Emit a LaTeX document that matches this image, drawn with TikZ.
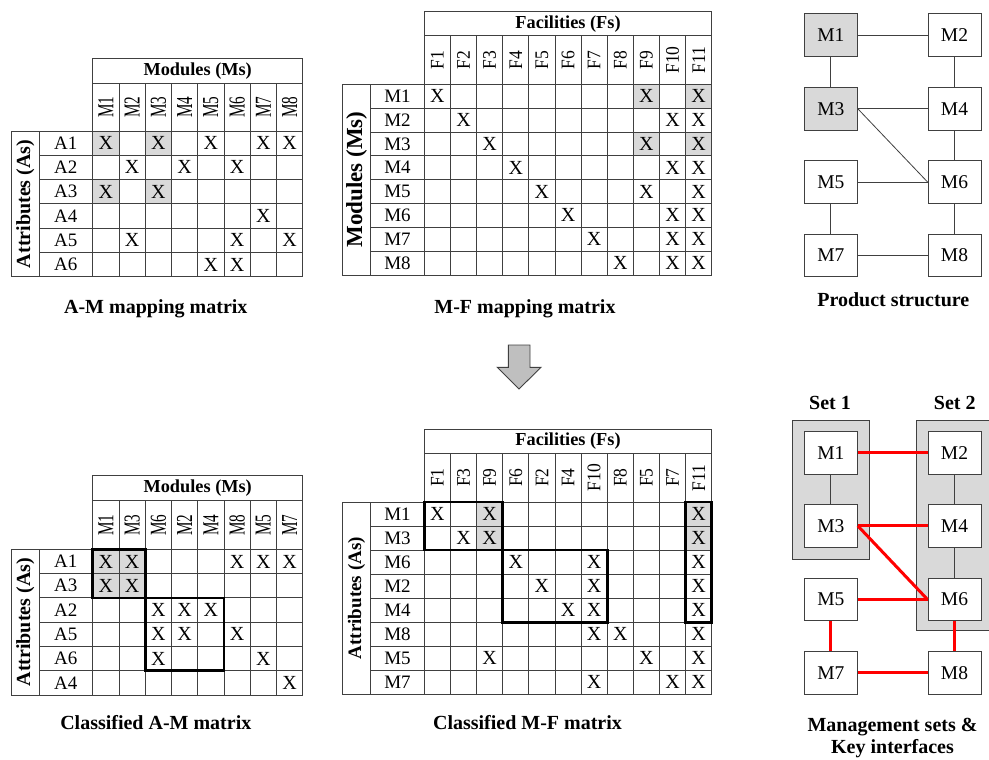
\documentclass[tikz,border=0pt]{standalone}
\usepackage{fontspec}
\setmainfont{Liberation Serif}
\definecolor{cellgray}{HTML}{D9D9D9}
\definecolor{gridc}{HTML}{404040}
\definecolor{arrowgray}{HTML}{BFBFBF}
\tikzset{
  gridline/.style={draw=gridc, line width=0.9pt},
  bbox/.style={draw=black, line width=2.7pt, line join=miter},
  cell/.style={inner sep=0pt, font=\fontsize{20}{20}\selectfont},
  collab/.style={inner sep=0pt, rotate=90, font=\fontsize{17.5}{18}\selectfont},
  rowlab/.style={inner sep=0pt, font=\fontsize{19}{19}\selectfont},
  headlab/.style={inner sep=0pt, font=\fontsize{18.3}{19}\selectfont\bfseries},
  axislab/.style={inner sep=0pt, rotate=90, font=\fontsize{20}{21}\selectfont\bfseries},
  title/.style={inner sep=0pt, anchor=base, font=\fontsize{20}{21}\selectfont\bfseries},
  modbox/.style={draw=gridc, line width=0.9pt, fill=white, minimum width=53pt, minimum height=42.7pt, inner sep=0pt, font=\fontsize{19.5}{20}\selectfont},
  graybox/.style={modbox, fill=cellgray},
  link/.style={draw=gridc, line width=0.8pt},
  redlink/.style={draw=red, line width=3pt},
  setbox/.style={draw=gridc, line width=0.9pt, fill=cellgray},
}
\newcommand{\mgrid}{%
  \pgfmathsetmacro\Xe{\Xc+\NC*\CW}%
  \pgfmathsetmacro\Ye{\Yc+\NR*\RH}%
  \pgfmathtruncatemacro\NCm{\NC-1}%
  \pgfmathtruncatemacro\NRm{\NR-1}%
  \draw[gridline] (\Xc,\Ya) rectangle (\Xe,\Ye);
  \draw[gridline] (\Xc,\Yb) -- (\Xe,\Yb);
  \draw[gridline] (\Xa,\Yc) rectangle (\Xe,\Ye);
  \draw[gridline] (\Xb,\Yc) -- (\Xb,\Ye);
  \foreach \i in {1,...,\NCm} {\draw[gridline] ({\Xc+\i*\CW},\Yb) -- ({\Xc+\i*\CW},\Ye);}
  \foreach \i in {1,...,\NRm} {\draw[gridline] (\Xb,{\Yc+\i*\RH}) -- (\Xe,{\Yc+\i*\RH});}
}
\newcommand{\shadecell}[2]{\fill[cellgray] ({\Xc+(#2-1)*\CW},{\Yc+(#1-1)*\RH}) rectangle ++(\CW,\RH);}
\newcommand{\boldbox}[4]{\draw[bbox] ({\Xc+(#2-1)*\CW},{\Yc+(#1-1)*\RH}) rectangle ({\Xc+#4*\CW},{\Yc+#3*\RH});}
\newcommand{\cellmarks}[2]{%
  \foreach \r/\c in {#2} {\node[cell] (#1-\r-\c) at ({\Xc+(\c-0.5)*\CW},{\Yc+(\r-0.5)*\RH}) {X};}}
% #3: font size, #4: scale along text, #5: scale across text
\newcommand{\collabels}[5]{%
  \foreach \t [count=\c] in {#2} {\node[collab, font=\fontsize{#3}{#3}\selectfont] (#1-c\c) at ({\Xc+(\c-0.5)*\CW},{(\Yb+\Yc)/2}) {\scalebox{#4}[#5]{\t}};}}
\newcommand{\rowlabels}[2]{%
  \foreach \t [count=\r] in {#2} {\node[rowlab] (#1-r\r) at ({(\Xb+\Xc)/2},{\Yc+(\r-0.5)*\RH}) {\t};}}
\begin{document}
\begin{tikzpicture}[x=1pt,y=-1pt]
\useasboundingbox (0,0) rectangle (989,760);

% ---------- Top-left: A-M mapping matrix ----------
\def\Xa{11.7}\def\Xb{39}\def\Xc{92.7}\def\CW{26.25}\def\NC{8}
\def\Ya{58.3}\def\Yb{83.3}\def\Yc{131}\def\RH{24.3}\def\NR{6}
\shadecell{1}{1}\shadecell{1}{3}\shadecell{3}{1}\shadecell{3}{3}
\mgrid
\node[headlab] (tl-head) at ({(\Xc+\Xe)/2},{(\Ya+\Yb)/2}) {Modules (Ms)};
\node[axislab] (tl-axis) at ({(\Xa+\Xb)/2},{(\Yc+\Ye)/2}) {Attributes (As)};
\collabels{tl}{M1,M2,M3,M4,M5,M6,M7,M8}{19}{0.8}{1.2}
\rowlabels{tl}{A1,A2,A3,A4,A5,A6}
\cellmarks{tl}{1/1,1/3,1/5,1/7,1/8,2/2,2/4,2/6,3/1,3/3,4/7,5/2,5/6,5/8,6/5,6/6}
\node[title] (tl-title) at (155.8,313) {A-M mapping matrix};

% ---------- Top-middle: M-F mapping matrix ----------
\def\Xa{342.3}\def\Xb{370.7}\def\Xc{424.3}\def\CW{26.13}\def\NC{11}
\def\Ya{11.7}\def\Yb{35.7}\def\Yc{84.3}\def\RH{23.84}\def\NR{8}
\shadecell{1}{9}\shadecell{1}{11}\shadecell{3}{9}\shadecell{3}{11}
\mgrid
\node[headlab] (tm-head) at ({(\Xc+\Xe)/2},{(\Ya+\Yb)/2}) {Facilities (Fs)};
\node[axislab, font=\fontsize{23}{24}\selectfont\bfseries] (tm-axis) at ({(\Xa+\Xb)/2},{(\Yc+\Ye)/2}) {Modules (Ms)};
\collabels{tm}{F1,F2,F3,F4,F5,F6,F7,F8,F9,F10,F11}{17.5}{1}{1.1}
\rowlabels{tm}{M1,M2,M3,M4,M5,M6,M7,M8}
\cellmarks{tm}{1/1,1/9,1/11,2/2,2/10,2/11,3/3,3/9,3/11,4/4,4/10,4/11,5/5,5/9,5/11,6/6,6/10,6/11,7/7,7/10,7/11,8/8,8/10,8/11}
\node[title] (tm-title) at (525,313) {M-F mapping matrix};

% ---------- Bottom-left: Classified A-M matrix ----------
\def\Xa{11.7}\def\Xb{39}\def\Xc{92.7}\def\CW{26.25}\def\NC{8}
\def\Ya{475}\def\Yb{500.7}\def\Yc{549.3}\def\RH{24.3}\def\NR{6}
\shadecell{1}{1}\shadecell{1}{2}\shadecell{2}{1}\shadecell{2}{2}
\mgrid
\boldbox{1}{1}{2}{2}
\boldbox{3}{3}{5}{5}
\node[headlab] (bl-head) at ({(\Xc+\Xe)/2},{(\Ya+\Yb)/2}) {Modules (Ms)};
\node[axislab] (bl-axis) at ({(\Xa+\Xb)/2},{(\Yc+\Ye)/2}) {Attributes (As)};
\collabels{bl}{M1,M3,M6,M2,M4,M8,M5,M7}{19}{0.8}{1.2}
\rowlabels{bl}{A1,A3,A2,A5,A6,A4}
\cellmarks{bl}{1/1,1/2,1/6,1/7,1/8,2/1,2/2,3/3,3/4,3/5,4/3,4/4,4/6,5/3,5/7,6/8}
\node[title] (bl-title) at (155.8,729.3) {Classified A-M matrix};

% ---------- Bottom-middle: Classified M-F matrix ----------
\def\Xa{342.3}\def\Xb{370.7}\def\Xc{424.3}\def\CW{26.13}\def\NC{11}
\def\Ya{429.3}\def\Yb{453.5}\def\Yc{502}\def\RH{24.04}\def\NR{8}
\shadecell{1}{3}\shadecell{2}{3}\shadecell{1}{11}\shadecell{2}{11}
\mgrid
\boldbox{1}{1}{2}{3}
\boldbox{3}{4}{5}{7}
\boldbox{1}{11}{5}{11}
\node[headlab] (bm-head) at ({(\Xc+\Xe)/2},{(\Ya+\Yb)/2}) {Facilities (Fs)};
\node[axislab, font=\fontsize{19}{20}\selectfont\bfseries] (bm-axis) at ({(\Xa+\Xb)/2},{(\Yc+\Ye)/2}) {Attributes (As)};
\collabels{bm}{F1,F3,F9,F6,F2,F4,F10,F8,F5,F7,F11}{17.5}{1}{1.1}
\rowlabels{bm}{M1,M3,M6,M2,M4,M8,M5,M7}
\cellmarks{bm}{1/1,1/3,1/11,2/2,2/3,2/11,3/4,3/7,3/11,4/5,4/7,4/11,5/6,5/7,5/11,6/7,6/8,6/11,7/3,7/9,7/11,8/7,8/10,8/11}
\node[title] (bm-title) at (527.5,729.3) {Classified M-F matrix};

% ---------- Arrow ----------
\draw[draw=gridc, line width=0.9pt, fill=arrowgray, line join=miter]
  (508.3,345) -- (530,345) -- (530,367.3) -- (541,367.3) -- (519,389) -- (497.3,367.3) -- (508.3,367.3) -- cycle;

% ---------- Product structure ----------
\node[graybox] (p1) at (830.8,35.3) {M1};
\node[modbox]  (p2) at (954.5,35.3) {M2};
\node[graybox] (p3) at (830.8,108.7) {M3};
\node[modbox]  (p4) at (954.5,108.7) {M4};
\node[modbox]  (p5) at (830.8,182) {M5};
\node[modbox]  (p6) at (954.5,182) {M6};
\node[modbox]  (p7) at (830.8,255.3) {M7};
\node[modbox]  (p8) at (954.5,255.3) {M8};
\draw[link] (p1) -- (p2);
\draw[link] (p1) -- (p3);
\draw[link] (p2) -- (p4);
\draw[link] (p3) -- (p4);
\draw[link] (p3.east) -- (p6.west);
\draw[link] (p4) -- (p6);
\draw[link] (p5) -- (p6);
\draw[link] (p5) -- (p7);
\draw[link] (p6) -- (p8);
\draw[link] (p7) -- (p8);
\node[title] (ps-title) at (893.3,306) {Product structure};

% ---------- Management sets ----------
\begin{scope}
\clip (0,0) rectangle (989,760);
\draw[setbox] (792.3,420) rectangle (869,559.3);
\draw[setbox] (916.7,420) rectangle (1000,630.7);
\end{scope}
\node[title] (s1-title) at (830,409.3) {Set 1};
\node[title] (s2-title) at (954.8,409.3) {Set 2};
\node[modbox] (q1) at (830.8,452.8) {M1};
\node[modbox] (q2) at (954.5,452.8) {M2};
\node[modbox] (q3) at (830.8,525.8) {M3};
\node[modbox] (q4) at (954.5,525.8) {M4};
\node[modbox] (q5) at (830.8,599.5) {M5};
\node[modbox] (q6) at (954.5,599.5) {M6};
\node[modbox] (q7) at (830.8,672.8) {M7};
\node[modbox] (q8) at (954.5,672.8) {M8};
\draw[link] (q1) -- (q3);
\draw[link] (q2) -- (q4);
\draw[link] (q4) -- (q6);
\draw[redlink] (q1) -- (q2);
\draw[redlink] (q3) -- (q4);
\draw[redlink] (q3.east) -- (q6.west);
\draw[redlink] (q5) -- (q6);
\draw[redlink] (q5) -- (q7);
\draw[redlink] (q6) -- (q8);
\draw[redlink] (q7) -- (q8);
\node[title] (ms-title1) at (892.5,731.7) {Management sets \&};
\node[title] (ms-title2) at (892.5,753.3) {Key interfaces};
\end{tikzpicture}
\end{document}
